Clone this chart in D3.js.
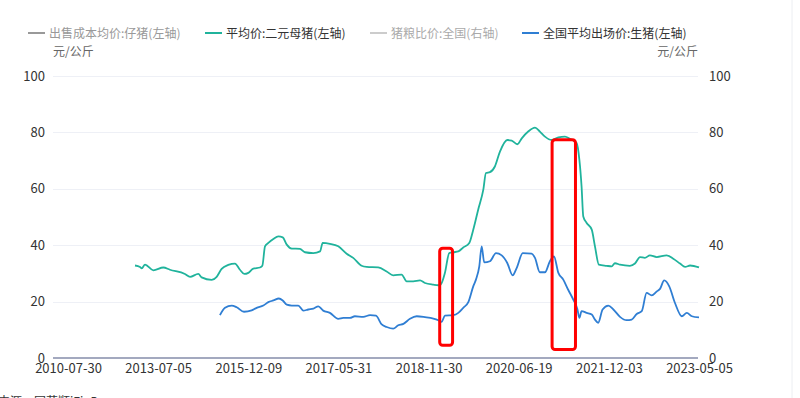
<!DOCTYPE html>
<html><head><meta charset="utf-8">
<script src="https://cdn.jsdelivr.net/npm/d3@7"></script>
<style>
html,body{margin:0;padding:0;background:#fff;}
svg{display:block;font-family:"Noto Sans CJK SC","Noto Sans",sans-serif;}
</style></head><body>
<svg id="c" width="800" height="398"></svg>
<script>
// ---- data ----
const tickLabels = ["2010-07-30","2013-07-05","2015-12-09","2017-05-31","2018-11-30","2020-06-19","2021-12-03","2023-05-05"];
const yTicks = [0,20,40,60,80,100];
const legendNames = ["出售成本均价:仔猪(左轴)","平均价:二元母猪(左轴)","猪粮比价:全国(右轴)","全国平均出场价:生猪(左轴)"];

const sowDates = ["2012-10-03","2012-12-02","2012-12-22","2013-01-30","2013-05-09","2013-08-25","2013-10-29","2014-03-26","2014-05-15","2014-08-04","2014-09-06","2014-12-14","2015-02-01","2015-03-22","2015-05-26","2015-07-31","2015-09-18","2015-10-31","2015-12-09","2016-01-08","2016-02-17","2016-03-02","2016-03-18","2016-04-07","2016-05-07","2016-06-06","2016-07-02","2016-07-26","2016-08-25","2016-10-13","2016-11-12","2017-01-01","2017-02-10","2017-02-26","2017-04-10","2017-05-30","2017-07-20","2017-08-29","2017-10-19","2017-11-19","2018-01-28","2018-03-20","2018-04-29","2018-06-19","2018-07-20","2018-08-29","2018-10-09","2018-11-08","2018-12-30","2019-01-30","2019-02-14","2019-03-13","2019-04-09","2019-05-05","2019-06-05","2019-07-06","2019-08-13","2019-09-07","2019-10-08","2019-11-09","2019-11-26","2019-12-21","2020-01-21","2020-02-22","2020-04-08","2020-05-06","2020-06-10","2020-07-07","2020-08-14","2020-09-23","2020-10-22","2020-11-21","2020-12-30","2021-02-08","2021-03-19","2021-04-17","2021-05-27","2021-06-12","2021-06-25","2021-07-05","2021-07-25","2021-08-24","2021-09-12","2021-10-05","2021-11-20","2021-12-19","2022-01-07","2022-02-05","2022-04-03","2022-05-02","2022-05-31","2022-06-28","2022-07-27","2022-09-04","2022-10-31","2022-12-08","2023-01-16","2023-02-14","2023-03-15","2023-05-05"];
const sowValues = [32.8,32.3,31.8,33.1,31.1,32.1,31.3,29.8,28.8,29.8,28.6,27.7,28.8,31.6,33.0,33.5,31.3,29.8,30.2,31.7,32.1,32.7,39.6,40.8,42.2,43.1,42.8,40.2,38.8,38.7,37.5,37.2,37.8,40.8,40.5,39.6,37.0,35.5,32.7,32.3,32.1,30.7,29.3,29.6,27.2,27.2,27.5,26.6,26.0,25.8,26.0,30.2,37.2,37.5,37.8,39.2,40.8,45.5,52.6,59.6,65.6,65.9,67.9,73.2,77.3,77.1,75.8,77.9,80.3,81.7,80.3,78.5,77.3,78.2,78.5,77.7,76.2,70.3,60.8,50.2,47.9,45.5,39.6,33.1,32.7,32.5,33.6,33.1,32.7,33.5,35.8,35.5,36.4,35.8,36.4,35.2,33.5,32.3,32.8,32.1];

const hogDates = ["2015-03-05","2015-04-24","2015-06-29","2015-08-17","2015-10-28","2015-12-29","2016-01-28","2016-03-08","2016-04-07","2016-05-07","2016-06-09","2016-07-02","2016-07-26","2016-08-25","2016-10-03","2016-11-02","2016-12-02","2017-01-01","2017-01-31","2017-03-01","2017-04-10","2017-05-30","2017-06-30","2017-08-09","2017-09-08","2017-10-29","2017-12-09","2018-01-14","2018-02-18","2018-03-20","2018-04-29","2018-05-30","2018-06-30","2018-08-09","2018-09-19","2018-11-08","2018-12-30","2019-01-30","2019-02-20","2019-03-13","2019-05-05","2019-06-05","2019-07-06","2019-08-07","2019-09-07","2019-09-24","2019-10-15","2019-10-30","2019-11-15","2019-12-21","2020-01-28","2020-03-04","2020-04-08","2020-05-12","2020-06-06","2020-07-13","2020-09-03","2020-09-23","2020-10-22","2020-11-21","2020-12-20","2021-01-13","2021-02-08","2021-03-09","2021-04-07","2021-05-07","2021-05-31","2021-06-12","2021-06-25","2021-07-25","2021-08-24","2021-09-12","2021-10-01","2021-10-27","2021-11-30","2021-12-29","2022-02-05","2022-03-15","2022-04-13","2022-05-12","2022-06-10","2022-07-08","2022-08-06","2022-09-04","2022-09-23","2022-10-17","2022-11-15","2022-12-18","2023-01-26","2023-02-24","2023-03-25","2023-05-05"];
const hogValues = [15.2,17.8,18.6,18.0,16.4,16.9,17.8,18.6,19.8,20.4,21.1,20.4,18.9,18.6,18.6,16.8,17.2,17.5,18.3,16.8,16.0,13.9,14.2,14.2,14.8,14.6,15.2,15.0,11.9,11.0,10.4,11.6,12.1,13.9,14.8,14.5,14.0,13.4,12.8,15.0,15.2,16.0,17.8,19.8,25.4,27.8,32.5,39.6,33.9,34.3,37.2,36.4,33.7,29.3,31.9,37.2,37.0,35.5,30.4,30.4,34.3,36.0,30.2,27.8,24.2,20.7,17.4,14.2,16.6,16.0,15.4,13.6,12.5,17.2,18.6,17.2,14.6,13.4,13.6,15.6,16.6,23.1,22.2,23.6,24.5,27.5,25.4,19.5,14.8,16.0,14.8,14.4];

// highlight boxes drawn on the picture: [startDate, endDate, lowValue, highValue]
const boxStart = ["2019-02-08","2021-01-02"];
const boxEnd   = ["2019-04-30","2021-05-20"];
const boxLow   = [4.5, 3.0];
const boxHigh  = [38.9, 77.4];

// ---- layout ----
const W = 800, H = 398;
const mLeft = 53, mRight = 698, mTop = 76, mBottom = 358;
const firstTickX = 68, lastTickX = 699;
const parse = d3.timeParse("%Y-%m-%d");
const fmt = d3.timeFormat("%Y-%m-%d");

const svg = d3.select("#c");
const tickDates = tickLabels.map(parse);
const x = d3.scaleTime()
  .domain(tickDates)
  .range(tickDates.map((d,i)=> firstTickX + i*(lastTickX-firstTickX)/(tickDates.length-1)));
const y = d3.scaleLinear().domain([0,100]).range([mBottom, mTop]);
const yR = d3.scaleLinear().domain([0,100]).range([mBottom, mTop]);

// faint right border
svg.append("line").attr("x1",792).attr("x2",792).attr("y1",0).attr("y2",H)
  .attr("stroke","#eceef2").attr("stroke-width",1);

// gridlines
svg.append("g").selectAll("line").data(yTicks.filter(v=>v>0)).join("line")
  .attr("x1",mLeft).attr("x2",mRight)
  .attr("y1",d=>Math.round(y(d))+0.5).attr("y2",d=>Math.round(y(d))+0.5)
  .attr("stroke","#eef0f6").attr("stroke-width",1);

// left axis
const gl = svg.append("g").attr("transform",`translate(${mLeft},0)`)
  .call(d3.axisLeft(y).tickValues(yTicks).tickSize(0).tickPadding(8));
gl.select(".domain").remove();
gl.selectAll("text").attr("fill","#333").style("font-size","13px").style("font-family",'"Noto Sans CJK SC",sans-serif');

// right axis
const gr = svg.append("g").attr("transform",`translate(${mRight},0)`)
  .call(d3.axisRight(yR).tickValues(yTicks).tickSize(0).tickPadding(11));
gr.select(".domain").remove();
gr.selectAll("text").attr("fill","#333").style("font-size","13px").style("font-family",'"Noto Sans CJK SC",sans-serif');

// x axis
const gx = svg.append("g").attr("transform",`translate(0,${mBottom})`)
  .call(d3.axisBottom(x).tickValues(tickDates).tickFormat(fmt).tickSize(0).tickPadding(6));
gx.select(".domain").remove();
gx.selectAll("text").attr("fill","#333").style("font-size","13px").style("font-family",'"Noto Sans CJK SC",sans-serif');

// baseline
svg.append("line").attr("x1",mLeft).attr("x2",mRight).attr("y1",mBottom).attr("y2",mBottom)
  .attr("stroke","#a3a9bf").attr("stroke-width",2);

// unit labels
svg.append("text").attr("x",mLeft).attr("y",56).text("元/公斤")
  .attr("fill","#666").style("font-size","12px");
svg.append("text").attr("x",mRight).attr("y",56).attr("text-anchor","end").text("元/公斤")
  .attr("fill","#666").style("font-size","12px");

// lines
const line = d3.line().x(d=>x(d[0])).y(d=>y(d[1])).curve(d3.curveMonotoneX);
const sow = sowDates.map((d,i)=>[parse(d), sowValues[i]]);
const hog = hogDates.map((d,i)=>[parse(d), hogValues[i]]);
svg.append("path").datum(sow).attr("d",line).attr("fill","none")
  .attr("stroke","#20b39c").attr("stroke-width",1.8).attr("stroke-linejoin","round");
svg.append("path").datum(hog).attr("d",line).attr("fill","none")
  .attr("stroke","#2f7ed3").attr("stroke-width",1.8).attr("stroke-linejoin","round");

// red highlight boxes
svg.append("g").selectAll("rect").data(boxStart.map((d,i)=>i)).join("rect")
  .attr("x",i=>x(parse(boxStart[i])))
  .attr("y",i=>y(boxHigh[i]))
  .attr("width",i=>x(parse(boxEnd[i]))-x(parse(boxStart[i])))
  .attr("height",i=>y(boxLow[i])-y(boxHigh[i]))
  .attr("rx",3).attr("fill","none").attr("stroke","#ff0000").attr("stroke-width",3);

// legend
const legendColors = ["#999999","#20b39c","#cccccc","#2f7ed3"];
const legendText = ["#999999","#333333","#aaaaaa","#333333"];
const legendX = [28,205,370,522];
const lg = svg.append("g");
legendNames.forEach((n,i)=>{
  lg.append("line").attr("x1",legendX[i]).attr("x2",legendX[i]+17).attr("y1",33).attr("y2",33)
    .attr("stroke",legendColors[i]).attr("stroke-width",2);
  lg.append("text").attr("x",legendX[i]+21).attr("y",37.5).text(n)
    .attr("fill",legendText[i]).style("font-size","12px");
});

// clipped source note at the bottom edge (cut off in the original too)
svg.append("text").attr("x",-2).attr("y",406).text("来源：同花顺iFinD")
  .attr("fill","#333").style("font-size","12px");
</script>
</body></html>
